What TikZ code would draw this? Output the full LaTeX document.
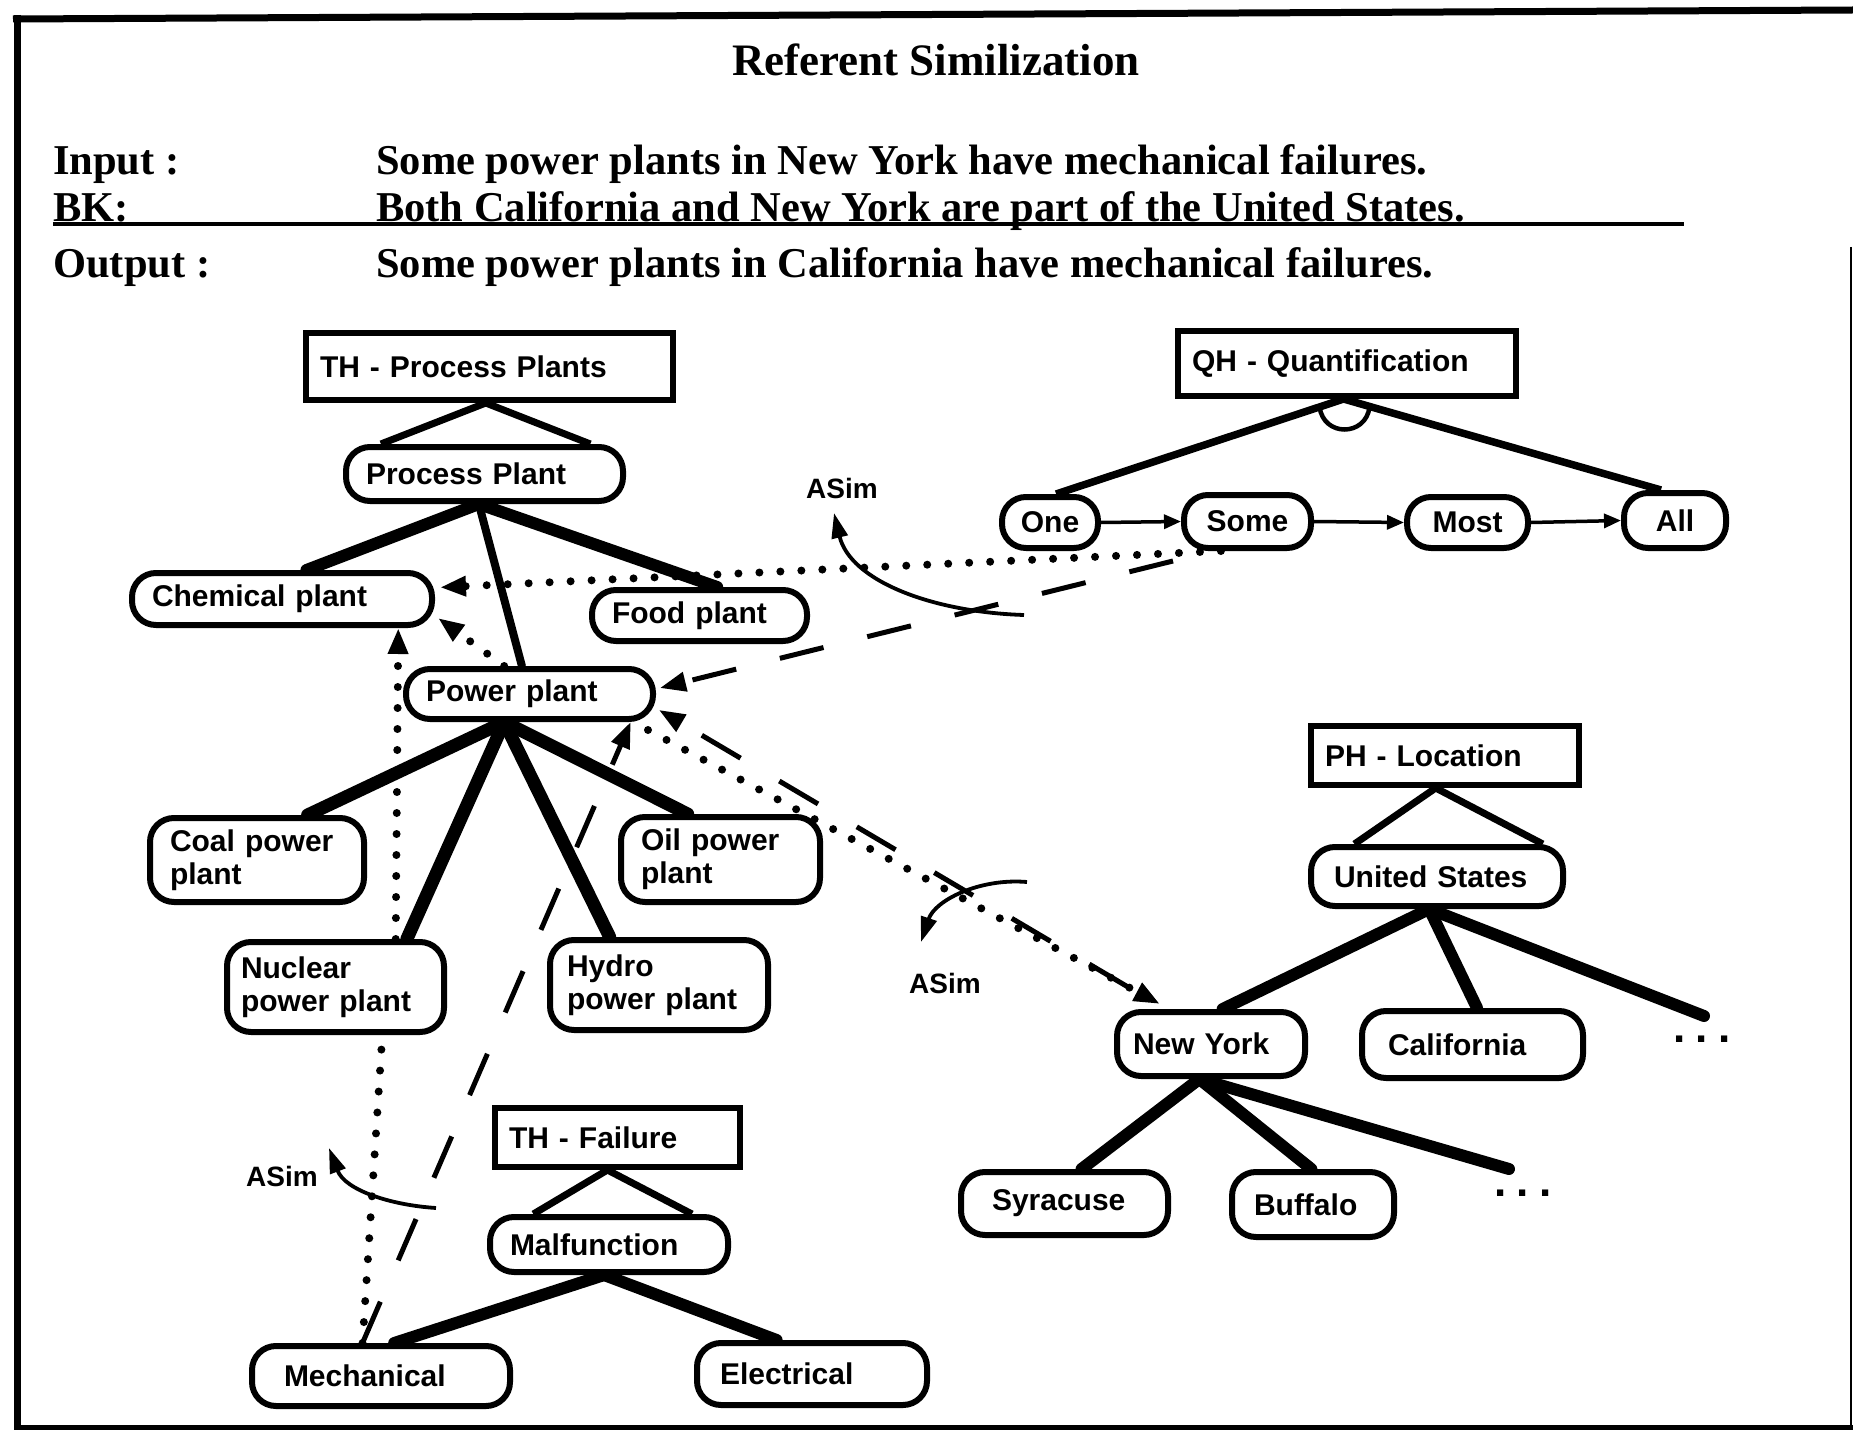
\documentclass[tikz,border=0pt]{standalone}
\usepackage{fontspec}
\setmainfont{Liberation Serif}
\newfontfamily\nodefont{Liberation Sans}
\usetikzlibrary{calc,arrows.meta,backgrounds}

\begin{document}
\begin{tikzpicture}[x=1pt,y=-1pt,
  hdr/.style={font=\fontsize{42.5}{50}\selectfont\bfseries, inner sep=0pt, anchor=base west},
  hbox/.style={draw, line width=6pt, fill=white, font=\nodefont\fontsize{30}{33}\selectfont\bfseries,
               align=left, inner xsep=14pt, inner ysep=0pt},
  rbox/.style={draw, line width=6pt, fill=white, rounded corners=24pt,
               font=\nodefont\fontsize{30}{33}\selectfont\bfseries, align=left, inner xsep=20pt, inner ysep=0pt},
  cbox/.style={rbox, align=center, inner xsep=0pt},
  branch/.style={line width=12pt, line cap=round},
  apexline/.style={line width=7pt},
  dotline/.style={line width=8pt, line cap=round, dash pattern=on 0pt off 21pt},
  dashline/.style={line width=5pt, dash pattern=on 45pt off 45pt},
  endtip/.style={-{Triangle[length=26pt,width=19pt]}},
  qarrow/.style={line width=3.5pt, -{Triangle[length=17pt,width=14pt]}},
  spin/.style={line width=3.8pt, -{Triangle[length=25pt,width=16pt]}},
  asim/.style={font=\nodefont\fontsize{28}{30}\selectfont\bfseries, inner sep=0pt},
  ellip/.style={font=\nodefont\fontsize{44}{44}\selectfont\bfseries, inner sep=0pt},
]
\useasboundingbox (0,0) rectangle (1853,1431);

% frame
\draw[line width=7pt] (13,19) -- (1853,10);
\draw[line width=7pt] (17,15) -- (17,1428);
\draw[line width=5pt] (14,1427) -- (1853,1427);
\draw[line width=2.5pt] (1851,247) -- (1851,1427);

% heading and statements
\node[font=\fontsize{45}{50}\selectfont\bfseries, anchor=base, inner sep=0pt] (title) at (936,76) {Referent Similization};
\node[hdr] (inlbl) at (53,175) {Input :};
\node[hdr] (intxt) at (376,175) {Some power plants in New York have mechanical failures.};
\node[hdr] (bklbl) at (53,222) {BK:};
\node[hdr] (bktxt) at (376,222) {Both California and New York are part of the United States.};
\node[hdr] (outlbl) at (53,278) {Output :};
\node[hdr] (outtxt) at (376,278) {Some power plants in California have mechanical failures.};
\draw[line width=4.5pt] (bklbl.base west) ++(0,2) -- (1684,224);

% TH - Process Plants
\node[hbox, text width=339pt, minimum height=67pt] (thpp) at (489.5,366.5) {TH - Process Plants};
\node[rbox, text width=237pt, minimum height=54pt] (pp) at (484.5,474) {Process Plant};
\node[rbox, text width=260pt, minimum height=52pt] (chem) at (282,599) {Chemical plant};
\node[rbox, text width=175pt, minimum height=51pt] (food) at (699.5,615.5) {Food plant};
\node[rbox, text width=207pt, minimum height=50pt] (power) at (529.5,694) {Power plant};
\node[rbox, text width=174pt, minimum height=84pt] (coal) at (257,860) {Coal power\\plant};
\node[rbox, text width=159pt, minimum height=85pt] (oil) at (720.5,859.5) {Oil power\\plant};
\node[rbox, text width=189pt, minimum height=90pt, inner xsep=14pt] (nuc) at (335.5,987) {Nuclear\\power plant};
\node[rbox, text width=184pt, minimum height=90pt, inner xsep=17pt] (hydro) at (659,985) {Hydro\\power plant};

% TH - Failure
\node[hbox, text width=217pt, minimum height=59pt] (thf) at (617.5,1137.5) {TH - Failure};
\node[rbox, text width=198pt, minimum height=55pt] (malf) at (609,1244.5) {Malfunction};
\node[rbox, text width=194pt, minimum height=60pt, inner xsep=32pt] (mech) at (381,1376) {Mechanical};
\node[rbox, text width=184pt, minimum height=62pt, inner xsep=23pt] (elec) at (812,1374) {Electrical};

% QH - Quantification
\node[hbox, text width=310pt, minimum height=65pt] (qh) at (1347,363.5) {QH - Quantification};
\node[cbox, minimum width=96pt, minimum height=51pt] (one) at (1050,522.5) {One};
\node[cbox, minimum width=127pt, minimum height=53pt] (some) at (1247.5,521.5) {Some};
\node[cbox, minimum width=121pt, minimum height=51pt] (most) at (1467.5,522.5) {Most};
\node[cbox, minimum width=102pt, minimum height=55pt] (all) at (1675,520.5) {All};

% PH - Location
\node[hbox, text width=240pt, minimum height=59pt] (ph) at (1445,755.5) {PH - Location};
\node[rbox, text width=206pt, minimum height=59pt, inner xsep=23pt] (us) at (1437,876.5) {United States};
\node[rbox, text width=156pt, minimum height=64pt, inner xsep=16pt] (ny) at (1211,1044) {New York};
\node[rbox, text width=169pt, minimum height=67pt, inner xsep=26pt] (cal) at (1472.5,1044.5) {California};
\node[rbox, text width=145pt, minimum height=63pt, inner xsep=31pt] (syr) at (1064.5,1203.5) {Syracuse};
\node[rbox, text width=118pt, minimum height=65pt, inner xsep=22pt] (buf) at (1313,1204.5) {Buffalo};
\node[ellip] (dots1) at (1702,1039) {.\hspace{10pt}.\hspace{10pt}.};
\node[ellip] (dots2) at (1523,1193) {.\hspace{10pt}.\hspace{10pt}.};
\coordinate (d1) at (1704,1016);
\coordinate (d2) at (1509,1169);

% hierarchy links, kept behind the boxes
\begin{pgfonlayer}{background}
  \coordinate (thppa) at ($(thpp.south west)!0.49!(thpp.south east)$);
  \draw[apexline] ($(pp.north west)!0.134!(pp.north east)$) -- (thppa) -- ($(pp.north west)!0.874!(pp.north east)$);
  \coordinate (ppb) at ($(pp.south west)!0.48!(pp.south east)$);
  \draw[branch] (ppb) -- ($(chem.north west)!0.58!(chem.north east)$);
  \draw[branch, line width=8pt] (ppb) -- ($(power.north west)!0.47!(power.north east)$);
  \draw[branch] (ppb) -- ($(food.north west)!0.58!(food.north east)$);
  \coordinate (pwb) at ($(power.south west)!0.40!(power.south east)$);
  \draw[branch, line width=13pt] (pwb) -- ($(coal.north west)!0.73!(coal.north east)$);
  \draw[branch, line width=13pt] (pwb) -- ($(nuc.north west)!0.82!(nuc.north east)$);
  \draw[branch, line width=13pt] (pwb) -- ($(hydro.north west)!0.28!(hydro.north east)$);
  \draw[branch, line width=13pt] (pwb) -- ($(oil.north west)!0.34!(oil.north east)$);

  \coordinate (thfa) at ($(thf.south west)!0.46!(thf.south east)$);
  \draw[apexline] ($(malf.north west)!0.19!(malf.north east)$) -- (thfa) -- ($(malf.north west)!0.84!(malf.north east)$);
  \coordinate (malfb) at ($(malf.south west)!0.48!(malf.south east)$);
  \draw[branch] (malfb) -- ($(mech.north west)!0.55!(mech.north east)$);
  \draw[branch] (malfb) -- ($(elec.north west)!0.35!(elec.north east)$);

  \coordinate (qha) at ($(qh.south west)!0.49!(qh.south east)$);
  \draw[apexline, line width=7.5pt] ($(one.north west)!0.56!(one.north east)$) -- (qha) -- ($(all.north west)!0.37!(all.north east)$);
  \draw[line width=4.5pt] ($(qha)+(-24,8)$) .. controls ($(qha)+(-20,38)$) and ($(qha)+(22,38)$) .. ($(qha)+(26,8)$);

  \coordinate (pha) at ($(ph.south west)!0.466!(ph.south east)$);
  \draw[apexline] ($(us.north west)!0.18!(us.north east)$) -- (pha) -- ($(us.north west)!0.91!(us.north east)$);
  \coordinate (usb) at ($(us.south west)!0.47!(us.south east)$);
  \draw[branch] (usb) -- ($(ny.north west)!0.56!(ny.north east)$);
  \draw[branch] (usb) -- ($(cal.north west)!0.52!(cal.north east)$);
  \draw[branch] (usb) -- (d1);
  \coordinate (nyb) at ($(ny.south west)!0.44!(ny.south east)$);
  \draw[branch] (nyb) -- ($(syr.north west)!0.58!(syr.north east)$);
  \draw[branch] (nyb) -- ($(buf.north west)!0.49!(buf.north east)$);
  \draw[branch] (nyb) -- (d2);
\end{pgfonlayer}

% quantifier ordering
\draw[qarrow] (one.east) -- (some.west);
\draw[qarrow] (some.east) -- (most.west);
\draw[qarrow] (most.east) -- (all.west);

% similization links
\draw[dotline, endtip] ($(some.south west)!0.3!(some.south east)$) -- ($(chem.north east)!0.3!(chem.south east) + (5,0)$);
\draw[dotline, endtip] ($(power.north west)!0.4!(power.north east)$) -- ($(chem.south east)+(3,-10)$);
\draw[dotline, endtip] ($(nuc.north west)!0.77!(nuc.north east)$) -- ($(chem.south west)!0.88!(chem.south east)$);
\draw[dotline] ($(mech.north west)!0.43!(mech.north east)$) -- ($(nuc.south west)!0.71!(nuc.south east)$);
\draw[dashline, endtip] ($(mech.north west)!0.43!(mech.north east)$) -- ($(power.south east)!0.1!(power.south west)$);
\draw[dashline, endtip] ($(some.south west)+(-8,10)$) -- ($(power.east)+(4,-6)$);
\draw[dashline, endtip] ($(ny.north west)+(14,-22)$) -- ($(power.south east)+(3,-12)$);
\draw[dotline, endtip] ($(power.south east)+(-8,8)$) -- ($(ny.north west)+(46,-5)$);

% ASim turns
\node[asim] (asim1) at (842,488) {ASim};
\node[asim] (asim2) at (945,983) {ASim};
\node[asim] (asim3) at (282,1176) {ASim};
\coordinate (r1s) at (1024,615);
\coordinate (r1e) at (834,513);
\coordinate (r2s) at (1027,882);
\coordinate (r2e) at (921,942);
\coordinate (r3s) at (436,1208);
\coordinate (r3e) at (329,1148);
\draw[spin] (r1s) .. controls (930,612) and (850,580) .. (r1e);
\draw[spin] (r2s) .. controls (980,878) and (935,900) .. (r2e);
\draw[spin] (r3s) .. controls (390,1205) and (345,1190) .. (r3e);

\end{tikzpicture}
\end{document}
